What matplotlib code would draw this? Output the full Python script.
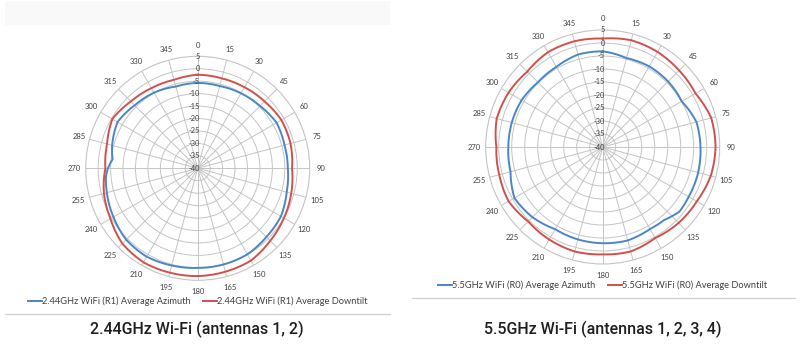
import matplotlib
matplotlib.use('Agg')
import matplotlib.pyplot as plt
import numpy as np
from matplotlib.transforms import offset_copy
from matplotlib.lines import Line2D

# angles in degrees (0 = north, clockwise), values in dB
ang_24 = [0, 15, 30, 45, 60, 75, 90, 105, 120, 135, 150, 165,
          180, 195, 210, 225, 240, 255, 270, 285, 300, 315, 330, 345]

# 2.44GHz (R1)
ang_24_azi = [0, 15, 30, 45, 60, 75, 90, 105, 120, 135, 150, 165,
              180, 195, 210, 225, 240, 255, 265, 270, 276, 285, 300, 315, 330, 345]
val_24_azi = [-5.7, -5.8, -5.2, -4.6, -3.4, -3.9, -3.8, -3.0, -1.4, -1.0, -0.1, 0.0,
              0.0, 0.4, 1.0, 0.6, -0.9, -2.2, -3.0, -3.9, -5.6, -4.4, -2.8, -4.2, -4.9, -6.0]
val_24_down = [-2.4, -2.6, -2.4, -2.0, -1.2, -1.4, -2.1, -1.1, 0.0, 1.2, 2.8, 3.0,
               3.3, 3.4, 3.6, 2.8, 0.5, -1.0, -2.9, -2.3, -0.4, -2.0, -2.8, -3.2]

# 5.5GHz (R0)
ang_55_azi = [0, 15, 30, 45, 60, 75, 90, 105, 120, 130, 140, 150, 165,
              180, 195, 210, 225, 240, 255, 270, 285, 300, 315, 330, 345]
val_55_azi = [-3.2, -4.6, -4.2, -4.4, -4.9, -2.7, -2.4, -2.0, -1.8, -1.4, -3.3, -3.6, -2.8,
              -3.0, -3.2, -3.5, -1.8, -0.8, -3.3, -3.7, -3.8, -4.0, -4.8, -4.4, -3.2]
val_55_down = [1.7, 2.5, 2.2, 1.6, 1.2, 3.2, 3.4, 3.0, 1.8, 1.3, 0.4, 1.6,
               1.3, 1.6, 1.1, 0.5, 1.8, 1.2, 0.9, 2.2, 1.8, 1.0, 2.1, 2.1]

r_ticks = [5, 0, -5, -10, -15, -20, -25, -30, -35, -40]
theta_labels = [str(a) for a in ang_24]

blue = '#4a86c6'
red = '#d0504c'
grid_c = '#c4c4c4'
txt_c = '#404040'
small_font = 'Lato'

fig = plt.figure(figsize=(8, 3.45), dpi=100)
fig.patch.set_facecolor('white')

# faint banner at the top left
fig.patches.append(plt.Rectangle((5 / 800, 1 - 25 / 345), 385 / 800, 24 / 345,
                                 transform=fig.transFigure, facecolor='#f9f9f9',
                                 edgecolor='none'))


def closed(a, v):
    # close the loop at 360 deg so the last segment runs forward
    a = np.deg2rad(list(a) + [a[0] + 360])
    v = list(v) + [v[0]]
    return a, v


def radar(rect, series, legend_y, labels):
    ax = fig.add_axes(rect, projection='polar')
    ax.set_theta_zero_location('N')
    ax.set_theta_direction(-1)
    ax.set_ylim(-40, 5)
    ax.set_yticks([-35, -30, -25, -20, -15, -10, -5, 0])
    ax.set_yticklabels([])
    ax.set_xticks(np.deg2rad(ang_24))
    ax.set_xticklabels(theta_labels, fontsize=5.5, color=txt_c, family=small_font)
    ax.tick_params(axis='x', pad=-2.5)
    ax.grid(True, color=grid_c, linewidth=0.7)
    ax.spines['polar'].set_color(grid_c)
    ax.spines['polar'].set_linewidth(0.8)
    tr = offset_copy(ax.transData, fig=fig, x=2, y=0, units='dots')
    for r in r_ticks:
        ax.text(0, r, str(r), transform=tr, ha='right', va='center',
                fontsize=5.3, color=txt_c, family=small_font, zorder=5)
    handles = []
    for (a, v), c, lab in zip(series, [blue, red], labels):
        aa, vv = closed(a, v)
        ln, = ax.plot(aa, vv, color=c, linewidth=1.4, label=lab, zorder=4)
        # let the polar transform draw smooth arcs between the points
        ln.get_path()._interpolation_steps = 40
        handles.append(ln)
    leg = ax.legend(handles=handles, loc='center', bbox_to_anchor=(0.5, legend_y),
                    bbox_transform=ax.transAxes, ncol=2, frameon=False,
                    handlelength=1.5, handletextpad=0.0, columnspacing=1.4,
                    prop={'family': small_font, 'size': 6.7})
    for t in leg.get_texts():
        t.set_color(txt_c)
    return ax


# left: center (197.7, 168.3), r = 112 px
radar([85.7 / 800, 1 - 280.3 / 345, 224 / 800, 224 / 345],
      [(ang_24_azi, val_24_azi), (ang_24, val_24_down)], -0.095,
      ['2.44GHz WiFi (R1) Average Azimuth', '2.44GHz WiFi (R1) Average Downtilt'])

# right: center (602.7, 147), r = 117 px
radar([485.7 / 800, 1 - 264 / 345, 234 / 800, 234 / 345],
      [(ang_55_azi, val_55_azi), (ang_24, val_55_down)], -0.09,
      ['5.5GHz WiFi (R0) Average Azimuth', '5.5GHz WiFi (R0) Average Downtilt'])

# separator lines
fig.add_artist(Line2D([5 / 800, 390 / 800], [1 - 314 / 345] * 2, color='#d4d4d4',
                      linewidth=1.0, transform=fig.transFigure))
fig.add_artist(Line2D([412 / 800, 795 / 800], [1 - 298 / 345] * 2, color='#d4d4d4',
                      linewidth=1.0, transform=fig.transFigure))

fig.text(197 / 800, 1 - 329 / 345, '2.44GHz Wi-Fi (antennas 1, 2)', ha='center',
         va='center', fontsize=11.5, color='#1e1e1e', family='Roboto', weight='medium')
fig.text(603 / 800, 1 - 329 / 345, '5.5GHz Wi-Fi (antennas 1, 2, 3, 4)', ha='center',
         va='center', fontsize=11.5, color='#1e1e1e', family='Roboto', weight='medium')

fig.savefig('out.png', dpi=100, facecolor='white')
